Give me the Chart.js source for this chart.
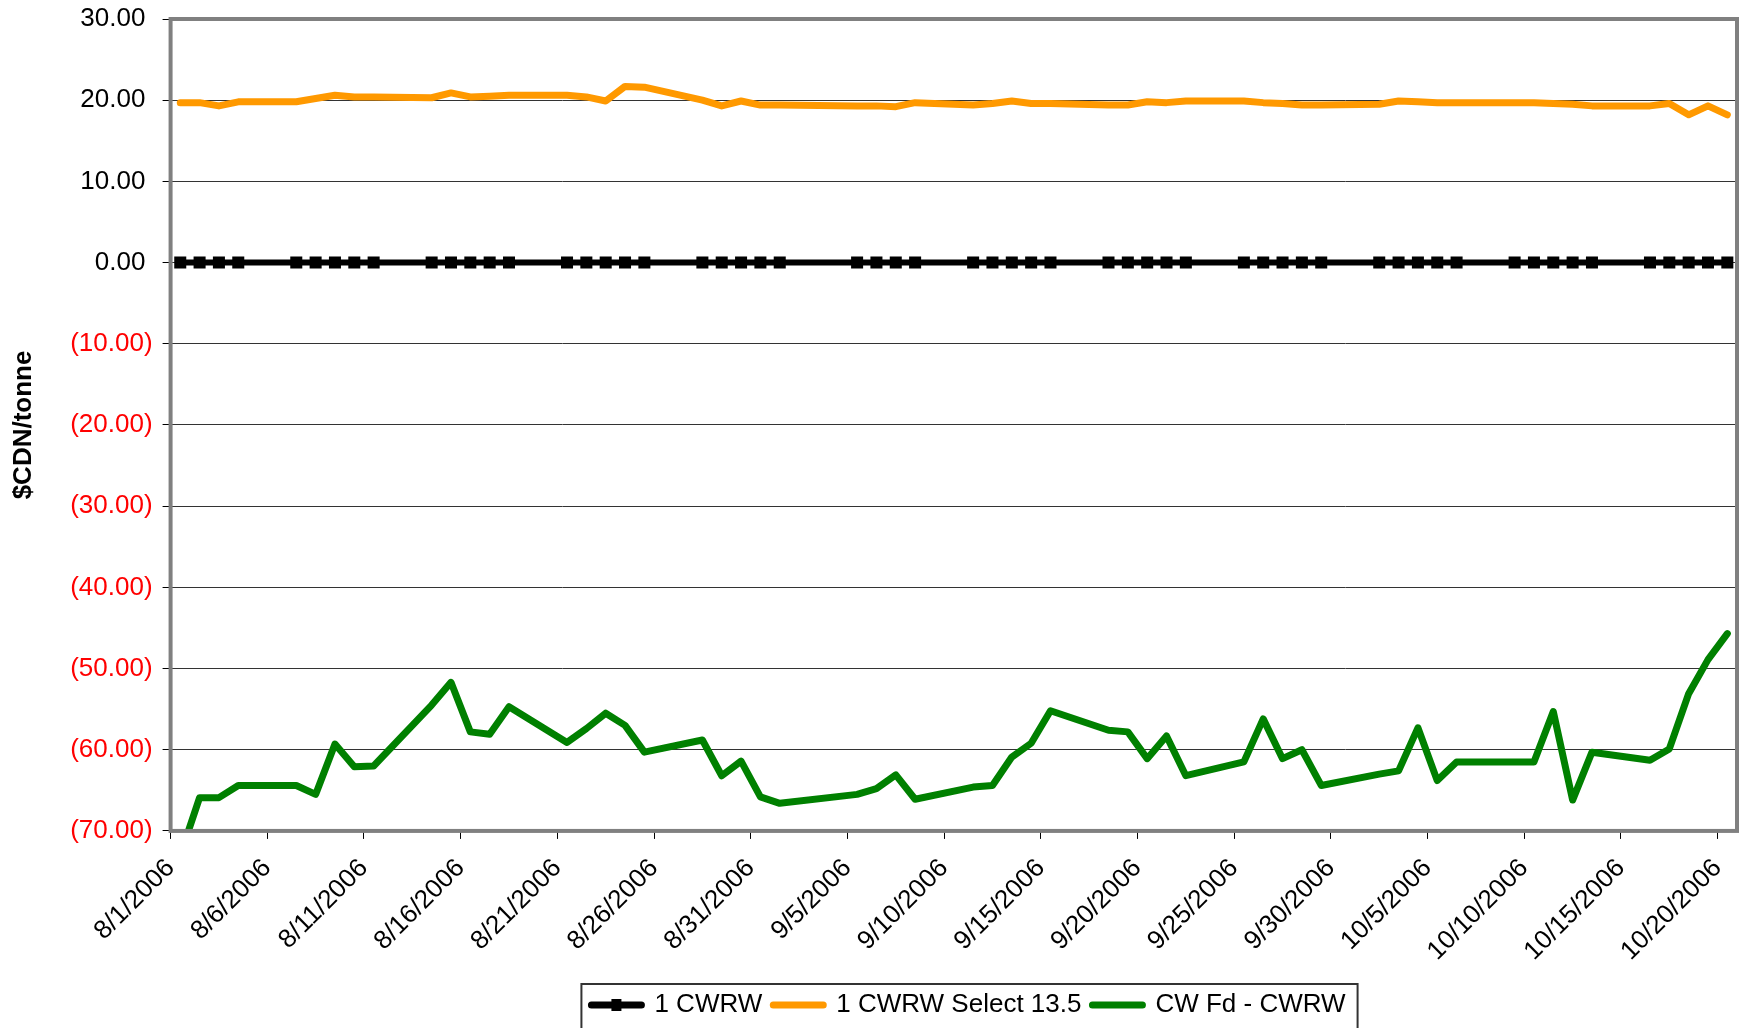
<!DOCTYPE html>
<html>
<head>
<meta charset="utf-8">
<script src="https://cdn.jsdelivr.net/npm/chart.js@4.4.0/dist/chart.umd.min.js"></script>
<style>
  html, body { margin: 0; padding: 0; background: #fff; }
  #wrap { width: 1748px; height: 1028px; }
</style>
</head>
<body>
<div id="wrap"><canvas id="spreadChart" width="1748" height="1028"></canvas></div>
<script>
// trading days (Labour Day 9/4 has no quote)
const tradeDates = [
  '8/1/2006', '8/2/2006', '8/3/2006', '8/4/2006',
  '8/7/2006', '8/8/2006', '8/9/2006', '8/10/2006', '8/11/2006',
  '8/14/2006', '8/15/2006', '8/16/2006', '8/17/2006', '8/18/2006',
  '8/21/2006', '8/22/2006', '8/23/2006', '8/24/2006', '8/25/2006',
  '8/28/2006', '8/29/2006', '8/30/2006', '8/31/2006', '9/1/2006',
  '9/5/2006', '9/6/2006', '9/7/2006', '9/8/2006',
  '9/11/2006', '9/12/2006', '9/13/2006', '9/14/2006', '9/15/2006',
  '9/18/2006', '9/19/2006', '9/20/2006', '9/21/2006', '9/22/2006',
  '9/25/2006', '9/26/2006', '9/27/2006', '9/28/2006', '9/29/2006',
  '10/2/2006', '10/3/2006', '10/4/2006', '10/5/2006', '10/6/2006',
  '10/9/2006', '10/10/2006', '10/11/2006', '10/12/2006', '10/13/2006',
  '10/16/2006', '10/17/2006', '10/18/2006', '10/19/2006', '10/20/2006'
];

const cwrw = tradeDates.map(() => 0);

const select135 = [
  19.7, 19.7, 19.3, 19.8,
  19.8, 20.2, 20.6, 20.4, 20.4,
  20.3, 20.9, 20.4, 20.5, 20.6,
  20.6, 20.4, 19.9, 21.7, 21.6,
  20.0, 19.3, 19.9, 19.4, 19.4,
  19.3, 19.3, 19.2, 19.7,
  19.4, 19.6, 19.9, 19.6, 19.6,
  19.4, 19.4, 19.8, 19.7, 19.9,
  19.9, 19.7, 19.6, 19.4, 19.4,
  19.5, 19.9, 19.8, 19.7, 19.7,
  19.7, 19.7, 19.6, 19.5, 19.3,
  19.3, 19.6, 18.2, 19.3, 18.2
];

const feedSpread = [
  -73.0, -65.9, -65.9, -64.4,
  -64.4, -65.5, -59.3, -62.1, -62.0,
  -54.5, -51.7, -57.8, -58.1, -54.7,
  -59.1, -57.4, -55.5, -57.0, -60.3,
  -58.8, -63.2, -61.4, -65.8, -66.6,
  -65.5, -64.8, -63.1, -66.1,
  -64.6, -64.4, -60.9, -59.2, -55.2,
  -57.6, -57.8, -61.1, -58.3, -63.2,
  -61.5, -56.2, -61.1, -60.0, -64.4,
  -63.0, -62.6, -57.3, -63.8, -61.5,
  -61.5, -61.5, -55.3, -66.2, -60.3,
  -61.3, -59.9, -53.1, -48.9, -45.7
];

const tickLabels = [
  '8/1/2006', '8/6/2006', '8/11/2006', '8/16/2006', '8/21/2006', '8/26/2006',
  '8/31/2006', '9/5/2006', '9/10/2006', '9/15/2006', '9/20/2006', '9/25/2006',
  '9/30/2006', '10/5/2006', '10/10/2006', '10/15/2006', '10/20/2006'
];
const axisEnd = '10/21/2006';

const seriesNames = ['1 CWRW', '1 CWRW Select 13.5', 'CW Fd - CWRW'];

const day0 = Date.UTC(2006, 7, 1);
function dayOffset(s) {
  const [m, d, y] = s.split('/').map(Number);
  return (Date.UTC(y, m - 1, d) - day0) / 86400000;
}
// excel puts each daily point in the middle of its day
const toPoints = vals => vals.map((v, i) => ({ x: dayOffset(tradeDates[i]) + 0.5, y: v }));

Chart.defaults.font.family = '"Liberation Sans", Arial, sans-serif';
Chart.defaults.color = '#000';

const frame = {
  id: 'frame',
  afterLayout(chart) {
    // legend sits a bit right of centre in the original
    chart.legend.left += 100;
    chart.legend.right += 100;
  },
  afterDatasetsDraw(chart) {
    const { ctx, chartArea: a } = chart;
    ctx.save();
    ctx.strokeStyle = '#808080';
    ctx.lineWidth = 4;
    ctx.strokeRect(a.left, a.top, a.right - a.left, a.bottom - a.top);
    ctx.restore();
  },
  afterDraw(chart) {
    const boxes = chart.legend.legendHitBoxes;
    if (!boxes || !boxes.length) return;
    const ctx = chart.ctx;
    const l = Math.min(...boxes.map(b => b.left)) - 10;
    const r = Math.max(...boxes.map(b => b.left + b.width)) + 12;
    const t = Math.min(...boxes.map(b => b.top)) - 8;
    ctx.save();
    ctx.strokeStyle = '#333';
    ctx.lineWidth = 2;
    ctx.strokeRect(l, t, r - l, chart.height + 10 - t);
    // square marker on the 1 CWRW sample
    const b0 = boxes[0];
    ctx.fillStyle = '#000';
    ctx.fillRect(b0.left + 25 - 5, b0.top + b0.height / 2 - 6, 10, 12);
    ctx.restore();
  }
};

new Chart(document.getElementById('spreadChart'), {
  type: 'line',
  data: {
    datasets: [
      {
        label: seriesNames[0],
        data: toPoints(cwrw),
        borderColor: '#000',
        backgroundColor: '#000',
        borderWidth: 6,
        pointStyle: 'rect',
        pointRadius: 8.5,
        pointBorderWidth: 0,
        pointBackgroundColor: '#000',
      },
      {
        label: seriesNames[1],
        data: toPoints(select135),
        borderColor: '#FF9900',
        backgroundColor: '#FF9900',
        borderWidth: 7,
        pointRadius: 0,
      },
      {
        label: seriesNames[2],
        data: toPoints(feedSpread),
        borderColor: '#008000',
        backgroundColor: '#008000',
        borderWidth: 7,
        pointRadius: 0,
        clip: 0,
      }
    ]
  },
  options: {
    responsive: false,
    animation: false,
    layout: { padding: { top: 0, right: 11, left: 0, bottom: 0 } },
    elements: { line: { tension: 0, borderJoinStyle: 'round', borderCapStyle: 'round' } },
    scales: {
      x: {
        type: 'linear',
        min: 0,
        max: dayOffset(axisEnd),
        afterBuildTicks: scale => { scale.ticks = tickLabels.map(t => ({ value: dayOffset(t) })); },
        afterFit: scale => { scale.paddingRight = 0; },
        ticks: {
          autoSkip: false,
          minRotation: 45,
          maxRotation: 45,
          padding: 14,
          font: { size: 26 },
          color: '#000',
          callback: (v, i) => tickLabels[i]
        },
        grid: { drawOnChartArea: false, tickLength: 8, color: '#000' },
        border: { display: false }
      },
      y: {
        min: -70,
        max: 30,
        afterFit: scale => { scale.paddingTop = 19; },
        ticks: {
          stepSize: 10,
          padding: 10,
          font: { size: 26 },
          color: ctx => ctx.tick.value < 0 ? '#FF0000' : '#000',
          callback: v => v < 0 ? '(' + Math.abs(v).toFixed(2) + ')' : v.toFixed(2) + ' '
        },
        grid: { color: '#333', lineWidth: 1, tickLength: 8, tickColor: '#000' },
        border: { display: false },
        title: {
          display: true,
          text: '$CDN/tonne',
          font: { size: 26, weight: 'bold' },
          color: '#000',
          padding: { top: 8, bottom: 21 }
        }
      }
    },
    plugins: {
      legend: {
        display: true,
        position: 'bottom',
        labels: {
          font: { size: 26 },
          color: '#000',
          usePointStyle: true,
          pointStyleWidth: 50,
          boxHeight: 7,
          padding: 11,
          generateLabels: chart => chart.data.datasets.map((ds, i) => ({
            text: ds.label,
            fillStyle: ds.borderColor,
            strokeStyle: ds.borderColor,
            lineWidth: 7,
            lineCap: 'round',
            pointStyle: 'line',
            hidden: false,
            datasetIndex: i
          }))
        }
      },
      tooltip: { enabled: false }
    }
  },
  plugins: [frame]
});
</script>
</body>
</html>
